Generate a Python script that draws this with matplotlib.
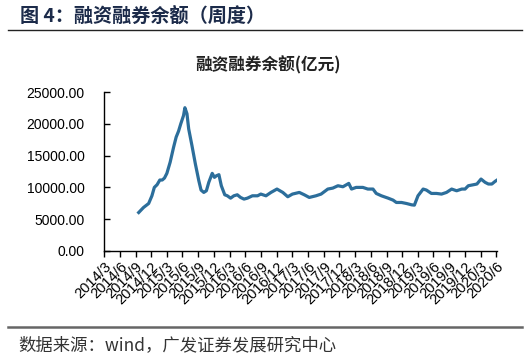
import matplotlib
matplotlib.use("Agg")
import matplotlib.pyplot as plt
import pandas as pd

dates = ["2014-09-19","2014-10-17","2014-11-16","2014-12-05","2014-12-19","2015-01-04","2015-01-20",
         "2015-02-03","2015-02-16","2015-03-02","2015-03-21","2015-04-10","2015-04-25","2015-05-09",
         "2015-05-22","2015-06-07","2015-06-15","2015-06-27","2015-07-07","2015-07-26","2015-08-15",
         "2015-09-04","2015-09-17","2015-10-03","2015-10-18","2015-11-01","2015-11-21","2015-12-04",
         "2015-12-16","2015-12-30","2016-01-13","2016-02-02","2016-02-17","2016-03-07","2016-03-26",
         "2016-04-15","2016-05-04","2016-05-24","2016-06-13","2016-07-12","2016-08-11","2016-08-30",
         "2016-09-29","2016-10-28","2016-12-02","2017-01-05","2017-02-03","2017-03-02","2017-04-11",
         "2017-05-10","2017-06-08","2017-07-17","2017-08-16","2017-09-24","2017-10-23","2017-11-22",
         "2017-12-21","2018-01-24","2018-02-09","2018-03-08","2018-04-16","2018-05-15","2018-06-14",
         "2018-07-03","2018-08-02","2018-09-10","2018-10-09","2018-10-28","2018-11-27","2018-12-26",
         "2019-01-25","2019-02-10","2019-03-03","2019-04-02","2019-04-21","2019-05-20","2019-06-19",
         "2019-07-18","2019-08-16","2019-09-15","2019-10-14","2019-11-13","2019-12-02","2019-12-21",
         "2020-01-20","2020-02-09","2020-03-04","2020-03-28","2020-04-16","2020-05-06","2020-05-25",
         "2020-06-14"]
balance = [6050, 6840, 7470, 8680, 10000, 10420, 11160,
           11160, 11470, 12210, 13950, 16300, 17900, 18840,
           20000, 21300, 22530, 21580, 19200, 16580, 13680,
           11050, 9580, 9210, 9470, 10790, 12210, 11580,
           11840, 12000, 10260, 8840, 8680, 8310, 8680,
           8840, 8420, 8160, 8310, 8680, 8680, 8950,
           8680, 9210, 9740, 9210, 8530, 8950, 9210,
           8840, 8420, 8680, 8950, 9740, 9890, 10260,
           10100, 10630, 9740, 10000, 10000, 9740, 9740,
           9050, 8680, 8310, 8000, 7630, 7630, 7470,
           7260, 7210, 8680, 9740, 9580, 9050, 9050,
           8950, 9210, 9740, 9470, 9740, 9740, 10260,
           10420, 10530, 11310, 10790, 10530, 10530, 10950,
           11310]

tick_dates = pd.date_range("2014-03-01", "2020-06-01", freq="3MS")
tick_labels = [f"{d.year}/{d.month}" for d in tick_dates]
yticks = [0, 5000, 10000, 15000, 20000, 25000]

cjk = ["Noto Sans CJK SC", "DejaVu Sans"]

fig = plt.figure(figsize=(5.31, 3.57), dpi=100)
ax = fig.add_axes([104/531, 1-251/357, (497-104)/531, (251-92)/357])

x = pd.to_datetime(dates)
ax.plot(x, balance, color="#2c6e9b", lw=2.3, solid_joinstyle="round")

ax.set_xlim(pd.Timestamp("2014-03-01"), pd.Timestamp("2020-06-05"))
ax.set_ylim(0, 25000)
ax.set_xticks(tick_dates)
ax.set_xticklabels(tick_labels, rotation=45, ha="right", va="top",
                   rotation_mode="anchor", fontsize=10.5, family="Liberation Sans")
ax.set_yticks(yticks)
ax.set_yticklabels([f"{v:.2f}" for v in yticks], fontsize=10, family="Liberation Sans")
ax.tick_params(axis="y", direction="in", length=4, width=1, pad=14)
ax.tick_params(axis="x", direction="out", length=4, width=1, pad=2)
for s in ["top", "right"]:
    ax.spines[s].set_visible(False)
for s in ["left", "bottom"]:
    ax.spines[s].set_linewidth(1)
    ax.spines[s].set_color("black")

fig.text(268/531, 1-65/357, "融资融券余额(亿元)", ha="center", va="center",
         fontsize=12, fontweight="bold", family=cjk, color="#222222")

fig.text(20/531, 1-16/357, "图 4：融资融券余额（周度）", ha="left", va="center",
         fontsize=13.8, fontweight="bold", family=cjk, color="#1c2b4a")
fig.add_artist(plt.Line2D([8/531, 522/531], [1-30/357, 1-30/357], color="#222222", lw=1))
fig.add_artist(plt.Line2D([8/531, 522/531], [1-327/357, 1-327/357], color="#666666", lw=1.8))
fig.text(18/531, 1-345/357, "数据来源：wind，广发证券发展研究中心", ha="left", va="center",
         fontsize=12.5, family=cjk, color="#333333")

fig.savefig("out.png", dpi=100)
